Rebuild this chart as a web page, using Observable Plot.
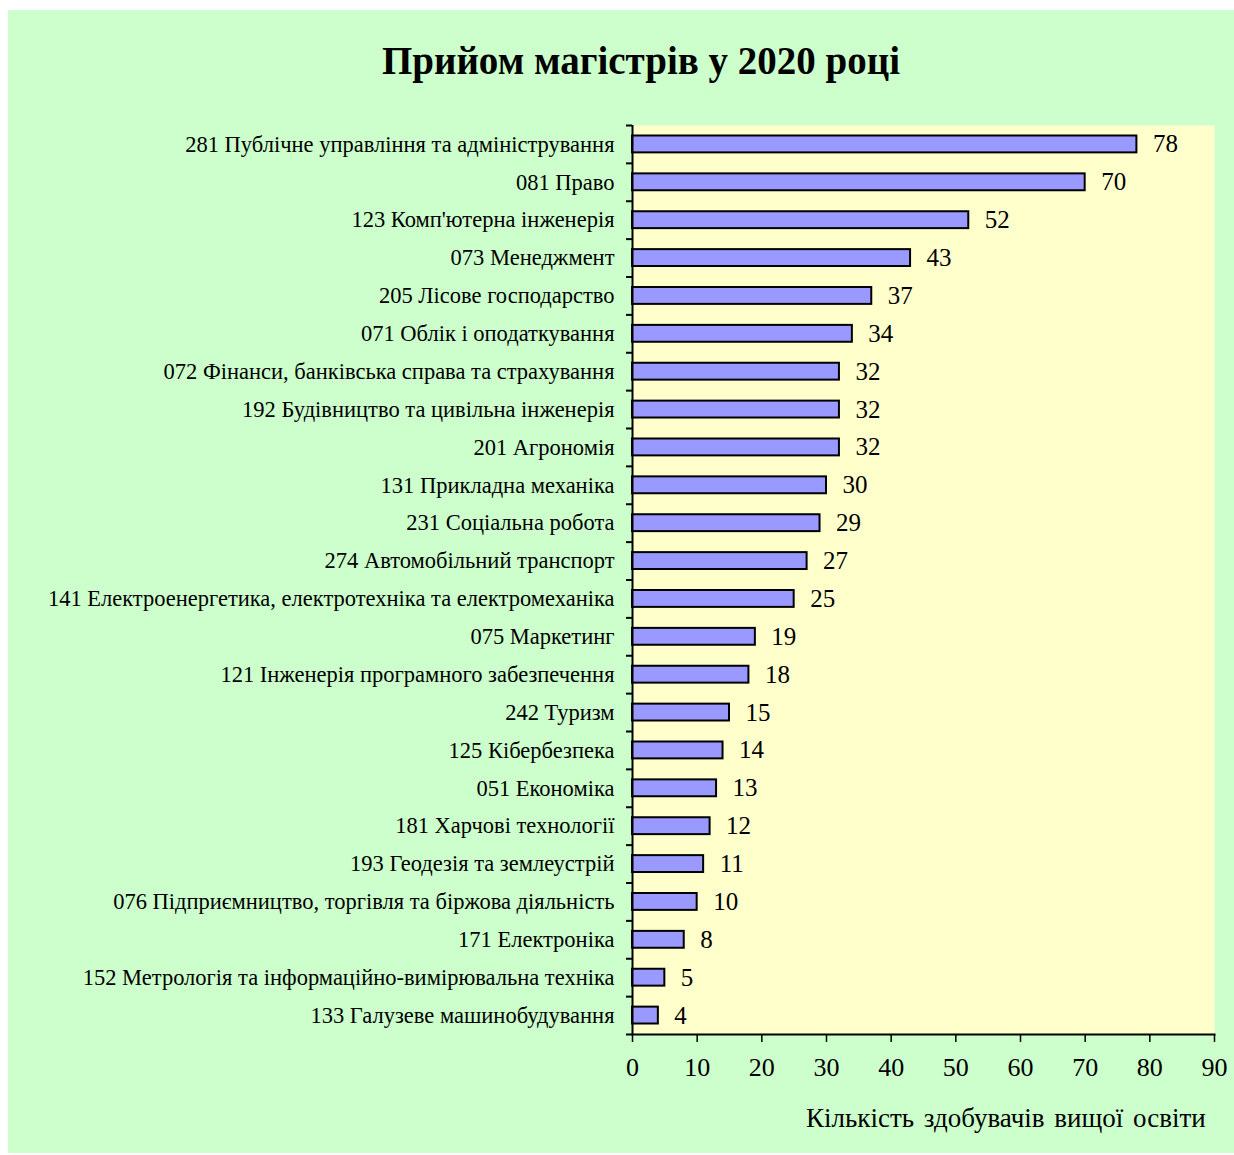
<!DOCTYPE html>
<html>
<head>
<meta charset="utf-8">
<script src="https://cdn.jsdelivr.net/npm/d3@7"></script>
<script src="https://cdn.jsdelivr.net/npm/@observablehq/plot@0.6"></script>
<style>
  html, body { margin: 0; padding: 0; background: #ffffff; }
  body { width: 1234px; height: 1155px; position: relative; overflow: hidden; font-family: "Liberation Serif", "Times New Roman", serif; }
  #bg { position: absolute; left: 8px; top: 10px; width: 1226px; height: 1143px; background: #ccffcc; }
  #title { position: absolute; left: 16px; width: 1250px; top: 38px; text-align: center; font-size: 39px; line-height: normal; font-weight: bold; color: #000; white-space: nowrap; }
  #chart { position: absolute; left: 0; top: 0; }
  #xlabel { position: absolute; left: 806px; top: 1103px; font-size: 27px; line-height: normal; word-spacing: 3px; color: #000; white-space: nowrap; }
</style>
</head>
<body>
<div id="bg"></div>
<div id="chart"></div>
<div id="title">Прийом магістрів у 2020 році</div>
<div id="xlabel">Кількість здобувачів вищої освіти</div>
<script>
const categories = [
  "281 Публічне управління та адміністрування",
  "081 Право",
  "123 Комп'ютерна інженерія",
  "073 Менеджмент",
  "205 Лісове господарство",
  "071 Облік і оподаткування",
  "072 Фінанси, банківська справа та страхування",
  "192 Будівництво та цивільна інженерія",
  "201 Агрономія",
  "131 Прикладна механіка",
  "231 Соціальна робота",
  "274 Автомобільний транспорт",
  "141 Електроенергетика, електротехніка та електромеханіка",
  "075 Маркетинг",
  "121 Інженерія програмного забезпечення",
  "242 Туризм",
  "125 Кібербезпека",
  "051 Економіка",
  "181 Харчові технології",
  "193 Геодезія та землеустрій",
  "076 Підприємництво, торгівля та біржова діяльність",
  "171 Електроніка",
  "152 Метрологія та інформаційно-вимірювальна техніка",
  "133 Галузеве машинобудування"
];
const values = [78, 70, 52, 43, 37, 34, 32, 32, 32, 30, 29, 27, 25, 19, 18, 15, 14, 13, 12, 11, 10, 8, 5, 4];
const xTicks = [0, 10, 20, 30, 40, 50, 60, 70, 80, 90];

const data = categories.map((c, i) => ({category: c, value: values[i]}));

const W = 1234, H = 1155;
const mL = 632, mR = 20, mT = 125, mB = 121;
const step = (H - mT - mB) / categories.length;
const pxPerUnit = (W - mL - mR) / 90;
const tickLen = 6 / pxPerUnit;
const inset = 10.5;
const font = '"Liberation Serif", "Times New Roman", serif';

const chart = Plot.plot({
  width: W,
  height: H,
  marginLeft: mL,
  marginRight: mR,
  marginTop: mT,
  marginBottom: mB,
  style: {background: "transparent", fontFamily: font, color: "#000"},
  x: {domain: [0, 90]},
  y: {domain: categories, padding: 0, round: false},
  marks: [
    Plot.frame({fill: "#ffffcc", stroke: null}),
    Plot.barX(data, {x: "value", y: "category", fill: "#9999ff", stroke: "#000", strokeWidth: 2, insetTop: inset, insetBottom: inset}),
    Plot.text(data, {x: "value", y: "category", text: d => String(d.value), textAnchor: "start", dx: 16, fontSize: 25, fontFamily: font, fill: "#000"}),
    Plot.ruleY(categories, {y: d => d, x1: -tickLen, x2: 0, dy: -step / 2, stroke: "#000", strokeWidth: 2}),
    Plot.ruleY([categories[categories.length - 1]], {y: d => d, x1: -tickLen, x2: 0, dy: step / 2, stroke: "#000", strokeWidth: 2}),
    Plot.ruleX([0], {stroke: "#000", strokeWidth: 2}),
    Plot.frame({anchor: "bottom", stroke: "#000", strokeWidth: 2}),
    Plot.axisY({tickSize: 0, tickPadding: 18, fontSize: 22.5, fontFamily: font, label: null}),
    Plot.axisX({ticks: xTicks, tickSize: 8, tickPadding: 15, fontSize: 26, fontFamily: font, label: null, strokeWidth: 1.5})
  ]
});
document.getElementById("chart").appendChild(chart);
</script>
</body>
</html>
